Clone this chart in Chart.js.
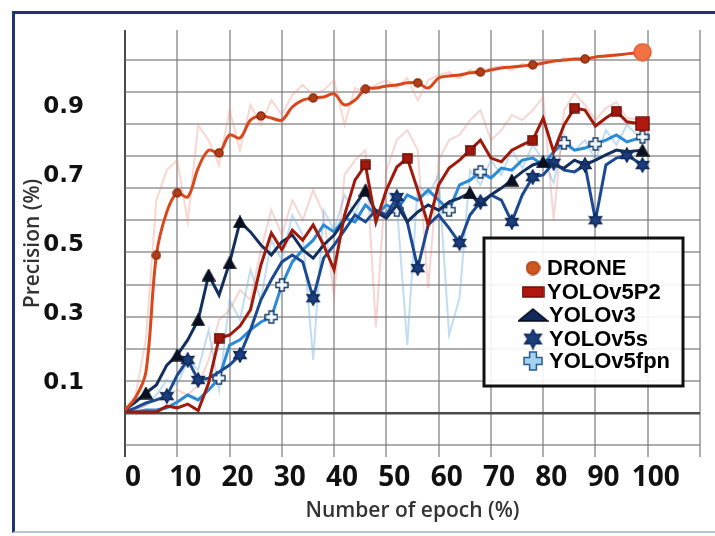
<!DOCTYPE html>
<html lang="en">
<head>
    <meta charset="UTF-8">
    <title>Precision vs number of epoch</title>
    <script src="https://cdn.jsdelivr.net/npm/chart.js@4.4.1/dist/chart.umd.min.js"></script>
    <style>
        body {
            margin: 0;
            background: #fff;
        }

        #wrap {
            position: relative;
            width: 715px;
            height: 536px;
        }

        canvas {
            display: block;
        }

        #frame {
            position: absolute;
            left: 12px;
            top: 11px;
            width: 703px;
            height: 522px;
            box-sizing: border-box;
            border-top: 3px solid #1e3473;
            border-left: 3px solid #1e3473;
            border-bottom: 2px solid #b8c4d8;
            pointer-events: none;
        }
    </style>
</head>
<body>
    <div id="wrap">
        <canvas id="grafico" width="715" height="536"></canvas>
        <div id="frame"></div>
    </div>

    <script>
        // epochs sampled every 2 (last one at 99)
        const epochs = [0, 2, 4, 6, 8, 10, 12, 14, 16, 18, 20, 22, 24, 26, 28, 30, 32, 34, 36, 38,
            40, 42, 44, 46, 48, 50, 52, 54, 56, 58, 60, 62, 64, 66, 68, 70, 72, 74, 76, 78,
            80, 82, 84, 86, 88, 90, 92, 94, 96, 99];

        const drone = [0.022, 0.057, 0.132, 0.470, 0.596, 0.651, 0.639, 0.723, 0.775, 0.767,
            0.819, 0.810, 0.862, 0.874, 0.868, 0.862, 0.900, 0.920, 0.926, 0.929,
            0.938, 0.906, 0.920, 0.952, 0.955, 0.961, 0.964, 0.970, 0.970, 0.955,
            0.984, 0.990, 0.993, 0.999, 1.001, 1.007, 1.013, 1.016, 1.019, 1.022,
            1.027, 1.033, 1.036, 1.039, 1.039, 1.045, 1.048, 1.051, 1.054, 1.059];

        const yolov5p2 = [0.016, 0.016, 0.016, 0.016, 0.033, 0.028, 0.039, 0.020, 0.100, 0.230,
            0.239, 0.265, 0.312, 0.442, 0.535, 0.486, 0.543, 0.514, 0.558, 0.500,
            0.428, 0.587, 0.688, 0.732, 0.567, 0.659, 0.726, 0.752, 0.659, 0.558,
            0.674, 0.723, 0.746, 0.775, 0.804, 0.752, 0.741, 0.775, 0.790, 0.804,
            0.868, 0.770, 0.848, 0.897, 0.891, 0.845, 0.868, 0.888, 0.857, 0.851];

        const yolov3 = [0.022, 0.045, 0.071, 0.094, 0.152, 0.181, 0.225, 0.283, 0.413, 0.355,
            0.448, 0.567, 0.538, 0.500, 0.471, 0.509, 0.529, 0.486, 0.462, 0.500,
            0.529, 0.572, 0.616, 0.659, 0.596, 0.578, 0.616, 0.567, 0.596, 0.616,
            0.601, 0.625, 0.636, 0.651, 0.616, 0.645, 0.665, 0.688, 0.712, 0.732,
            0.741, 0.732, 0.723, 0.746, 0.732, 0.746, 0.761, 0.775, 0.770, 0.775];

        const yolov5s = [0.016, 0.028, 0.042, 0.051, 0.062, 0.123, 0.167, 0.109, 0.114, 0.132,
            0.152, 0.181, 0.254, 0.341, 0.399, 0.451, 0.471, 0.451, 0.346, 0.462,
            0.500, 0.543, 0.587, 0.567, 0.601, 0.587, 0.639, 0.567, 0.433, 0.558,
            0.587, 0.549, 0.506, 0.587, 0.625, 0.645, 0.630, 0.567, 0.645, 0.697,
            0.703, 0.738, 0.717, 0.712, 0.732, 0.572, 0.732, 0.752, 0.761, 0.732];

        const yolov5fpn = [0.016, 0.016, 0.022, 0.022, 0.028, 0.045, 0.065, 0.051, 0.080, 0.114,
            0.210, 0.225, 0.254, 0.277, 0.291, 0.384, 0.451, 0.486, 0.514, 0.558,
            0.538, 0.578, 0.567, 0.616, 0.587, 0.616, 0.601, 0.645, 0.630, 0.659,
            0.630, 0.601, 0.674, 0.688, 0.712, 0.694, 0.723, 0.717, 0.746, 0.752,
            0.732, 0.770, 0.796, 0.775, 0.781, 0.793, 0.804, 0.819, 0.799, 0.813];

        // faint unsmoothed curves behind the main lines
        const droneRaw = [0.022, 0.065, 0.225, 0.630, 0.717, 0.746, 0.567, 0.848, 0.804, 0.732,
            0.891, 0.775, 0.906, 0.848, 0.920, 0.877, 0.935, 0.964, 0.935, 0.949,
            0.978, 0.848, 0.955, 0.943, 0.964, 0.978, 0.955, 0.984, 0.920, 0.978,
            0.993, 1.001, 0.984, 1.007, 1.001, 1.013, 1.019, 1.007, 1.025, 1.019,
            1.036, 1.030, 1.042, 1.036, 1.045, 1.042, 1.051, 1.048, 1.054, 1.059];

        const p2Raw = [0.016, 0.022, 0.036, 0.051, 0.065, 0.080, 0.065, 0.094, 0.167, 0.283,
            0.312, 0.370, 0.341, 0.486, 0.601, 0.529, 0.630, 0.572, 0.659, 0.587,
            0.349, 0.703, 0.746, 0.775, 0.262, 0.717, 0.804, 0.833, 0.775, 0.375,
            0.746, 0.804, 0.819, 0.862, 0.891, 0.804, 0.833, 0.877, 0.862, 0.891,
            0.929, 0.572, 0.891, 0.940, 0.906, 0.862, 0.897, 0.914, 0.868, 0.862];

        const blueRaw = [0.016, 0.022, 0.036, 0.065, 0.109, 0.094, 0.167, 0.138, 0.254, 0.080,
            0.341, 0.283, 0.428, 0.341, 0.514, 0.457, 0.587, 0.529, 0.167, 0.601,
            0.543, 0.645, 0.587, 0.674, 0.558, 0.659, 0.616, 0.210, 0.674, 0.645,
            0.703, 0.239, 0.346, 0.717, 0.674, 0.746, 0.703, 0.775, 0.723, 0.790,
            0.746, 0.680, 0.819, 0.775, 0.804, 0.746, 0.833, 0.790, 0.848, 0.804];

        // which sampled points carry a marker
        const droneMarks = [3, 5, 9, 13, 18, 23, 28, 34, 39, 44, 49];
        const p2Marks = [9, 23, 27, 33, 39, 43, 47, 49];
        const v3Marks = [2, 5, 7, 8, 10, 11, 23, 33, 37, 40, 49];
        const v5sMarks = [4, 6, 7, 11, 18, 26, 28, 32, 34, 37, 39, 41, 44, 45, 48, 49];
        const fpnMarks = [9, 14, 15, 26, 31, 34, 42, 45, 49];

        const xTicks = [0, 10, 20, 30, 40, 50, 60, 70, 80, 90, 100, 110];
        const yTickLabels = [0.1, 0.3, 0.5, 0.7, 0.9];
        const gridRows = [-0.1, 0, 0.1, 0.2, 0.3, 0.4, 0.5, 0.6, 0.7, 0.8, 0.9, 1.0, 1.1];

        function makeMarker(shape, w, h, fill, stroke) {
            const c = document.createElement('canvas');
            c.width = w;
            c.height = h;
            const g = c.getContext('2d');
            const mx = w / 2, my = h / 2;
            g.fillStyle = fill;
            g.strokeStyle = stroke;
            g.lineWidth = 1.5;
            g.beginPath();
            if (shape === 'circle') {
                g.arc(mx, my, Math.min(mx, my) - 1, 0, Math.PI * 2);
            } else if (shape === 'rect') {
                g.rect(1, 1, w - 2, h - 2);
            } else if (shape === 'triangle') {
                g.moveTo(mx, 1);
                g.lineTo(w - 1, h - 1);
                g.lineTo(1, h - 1);
                g.closePath();
            } else if (shape === 'star') {
                const ro = Math.min(mx, my) - 1;
                for (let i = 0; i < 12; i++) {
                    const r = i % 2 ? ro * 0.55 : ro;
                    const a = -Math.PI / 2 + i * Math.PI / 6;
                    g.lineTo(mx + r * Math.cos(a), my + r * Math.sin(a));
                }
                g.closePath();
            } else if (shape === 'cross') {
                const t = w * 0.17;
                const pts = [[mx - t, 1], [mx + t, 1], [mx + t, my - t], [w - 1, my - t], [w - 1, my + t],
                    [mx + t, my + t], [mx + t, h - 1], [mx - t, h - 1], [mx - t, my + t], [1, my + t],
                    [1, my - t], [mx - t, my - t]];
                pts.forEach(p => g.lineTo(p[0], p[1]));
                g.closePath();
            }
            g.fill();
            g.stroke();
            return c;
        }

        const icons = {
            droneSmall: makeMarker('circle', 10, 10, '#b23d17', '#8c2a0e'),
            droneBig: makeMarker('circle', 19, 19, '#f07245', '#e35f30'),
            p2: makeMarker('rect', 11, 11, '#a3180c', '#6e0e05'),
            p2Big: makeMarker('rect', 15, 15, '#b01a0e', '#7a0f06'),
            v3: makeMarker('triangle', 14, 13, '#0b1020', '#0b1020'),
            v5s: makeMarker('star', 16, 16, '#1b3d7c', '#0f2a5c'),
            fpn: makeMarker('cross', 14, 14, '#f2f8ff', '#1d3f6a')
        };

        const legendIcons = {
            drone: makeMarker('circle', 15, 15, '#d2561f', '#a9400f'),
            p2: makeMarker('rect', 23, 12, '#b0160c', '#700e08'),
            v3: makeMarker('triangle', 31, 14, '#13285a', '#050a18'),
            v5s: makeMarker('star', 21, 21, '#1b3d7c', '#0f2a5c'),
            fpn: makeMarker('cross', 20, 20, '#a6d2f2', '#2a5d8f')
        };

        function pts(values) {
            return values.map((v, i) => ({ x: epochs[i], y: v }));
        }

        function marked(list, size) {
            return (c) => list.includes(c.dataIndex) ? size : 0;
        }

        const gridColor = (c) => (c.tick && c.tick.value === 0) ? '#4a4a4a' : 'rgba(110,110,110,0.55)';

        // keep the plot area exactly where the axes say, no label padding
        function noPad(s) {
            s.paddingTop = 0;
            s.paddingBottom = 0;
            s.paddingLeft = 0;
            s.paddingRight = 0;
        }

        // legend box drawn inside the plot area
        const boxLegend = {
            id: 'boxLegend',
            afterDatasetsDraw(chart) {
                const ctx = chart.ctx;
                const items = chart.data.datasets.filter(d => d.legendIcon);
                const bx = 484, by = 238, bw = 199, bh = 148;
                const rows = [268, 292, 315, 339, 361];
                ctx.save();
                ctx.fillStyle = 'rgba(255,255,255,0.9)';
                ctx.fillRect(bx, by, bw, bh);
                ctx.lineWidth = 3;
                ctx.strokeStyle = '#111';
                ctx.strokeRect(bx, by, bw, bh);
                ctx.beginPath();
                ctx.rect(bx, by, bw - 2, bh);
                ctx.clip();
                ctx.font = 'bold 22px "Liberation Sans", Arial, sans-serif';
                ctx.textBaseline = 'middle';
                ctx.fillStyle = '#000';
                items.forEach((d, i) => {
                    const ic = d.legendIcon;
                    ctx.drawImage(ic, 533 - ic.width / 2, rows[i] - ic.height / 2);
                    ctx.fillText(d.label, i < 2 ? 547 : 549, rows[i] + 1);
                });
                ctx.restore();
            }
        };

        new Chart(document.getElementById('grafico'), {
            type: 'line',
            data: {
                datasets: [
                    {
                        label: 'DRONE',
                        data: pts(drone),
                        borderColor: '#d9481c',
                        borderWidth: 3,
                        tension: 0.35,
                        pointRadius: marked(droneMarks, 5),
                        pointStyle: (c) => c.dataIndex === epochs.length - 1 ? icons.droneBig : icons.droneSmall,
                        legendIcon: legendIcons.drone
                    },
                    {
                        label: 'YOLOv5P2',
                        data: pts(yolov5p2),
                        borderColor: '#a01a0c',
                        borderWidth: 3,
                        pointRadius: marked(p2Marks, 5),
                        pointStyle: (c) => c.dataIndex === epochs.length - 1 ? icons.p2Big : icons.p2,
                        legendIcon: legendIcons.p2
                    },
                    {
                        label: 'YOLOv3',
                        data: pts(yolov3),
                        borderColor: '#132f5e',
                        borderWidth: 3,
                        pointRadius: marked(v3Marks, 5),
                        pointStyle: icons.v3,
                        legendIcon: legendIcons.v3
                    },
                    {
                        label: 'YOLOv5s',
                        data: pts(yolov5s),
                        borderColor: '#1c4a92',
                        borderWidth: 3,
                        pointRadius: marked(v5sMarks, 5),
                        pointStyle: icons.v5s,
                        legendIcon: legendIcons.v5s
                    },
                    {
                        label: 'YOLOv5fpn',
                        data: pts(yolov5fpn),
                        borderColor: '#2a8bd8',
                        borderWidth: 3,
                        pointRadius: marked(fpnMarks, 5),
                        pointStyle: icons.fpn,
                        legendIcon: legendIcons.fpn
                    },
                    {
                        label: 'DRONE raw',
                        data: pts(droneRaw),
                        borderColor: 'rgba(240,140,120,0.35)',
                        borderWidth: 2,
                        pointRadius: 0
                    },
                    {
                        label: 'YOLOv5P2 raw',
                        data: pts(p2Raw),
                        borderColor: 'rgba(225,120,110,0.3)',
                        borderWidth: 2,
                        pointRadius: 0
                    },
                    {
                        label: 'YOLOv5fpn raw',
                        data: pts(blueRaw),
                        borderColor: 'rgba(120,180,225,0.45)',
                        borderWidth: 2,
                        pointRadius: 0
                    }
                ]
            },
            options: {
                responsive: false,
                animation: false,
                events: [],
                layout: { padding: { top: 30, right: 15, bottom: 0, left: 0 } },
                plugins: {
                    legend: { display: false },
                    tooltip: { enabled: false }
                },
                scales: {
                    x: {
                        type: 'linear',
                        min: 0,
                        max: 110,
                        afterBuildTicks: (s) => { s.ticks = xTicks.map(v => ({ value: v })); },
                        afterFit: (s) => { s.height = 79; noPad(s); },
                        border: { display: false },
                        grid: { color: gridColor, lineWidth: 2, drawTicks: false },
                        ticks: {
                            autoSkip: false,
                            maxRotation: 0,
                            padding: 4,
                            labelOffset: 8,
                            color: '#111',
                            font: { family: '"Open Sans", sans-serif', size: 28, weight: 'bold' },
                            callback: (v) => v <= 100 ? String(v) : ''
                        },
                        title: {
                            display: true,
                            text: 'Number of epoch (%)',
                            color: '#333',
                            padding: { top: 0, bottom: 12 },
                            font: { family: '"Open Sans", sans-serif', size: 21, weight: '600' }
                        }
                    },
                    y: {
                        position: 'left',
                        min: -0.1145,
                        max: 1.1232,
                        afterBuildTicks: (s) => { s.ticks = yTickLabels.map(v => ({ value: v })); },
                        afterFit: (s) => { s.width = 125; noPad(s); },
                        border: { display: false },
                        grid: { display: false },
                        ticks: {
                            padding: 33,
                            color: '#111',
                            font: { family: '"DejaVu Sans", sans-serif', size: 23, weight: 'bold' },
                            callback: (v) => v.toFixed(1)
                        },
                        title: {
                            display: true,
                            text: 'Precision (%)',
                            color: '#333',
                            padding: { top: 20, bottom: 0 },
                            font: { family: '"Open Sans", sans-serif', size: 21, weight: '600' }
                        }
                    },
                    yg: {
                        position: 'right',
                        min: -0.1371,
                        max: 1.1931,
                        afterBuildTicks: (s) => { s.ticks = gridRows.map(v => ({ value: v })); },
                        afterFit: (s) => { s.width = 0; noPad(s); },
                        border: { display: false },
                        grid: {
                            color: gridColor,
                            lineWidth: (c) => (c.tick && c.tick.value === 0) ? 2.5 : 2,
                            drawTicks: false
                        },
                        ticks: { display: false }
                    }
                }
            },
            plugins: [boxLegend]
        });
    </script>
</body>
</html>
